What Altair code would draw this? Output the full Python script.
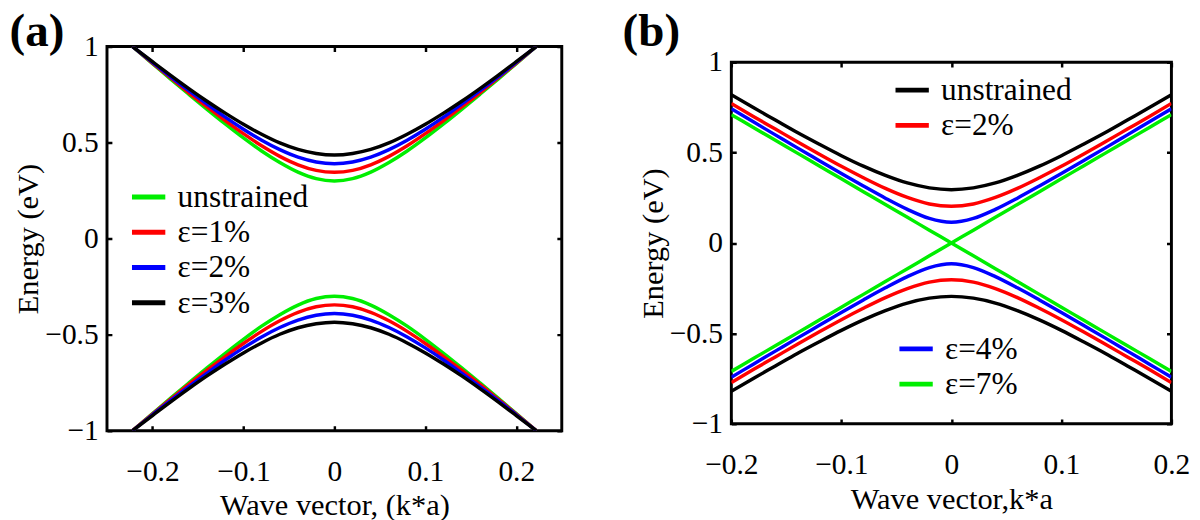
import altair as alt
import pandas as pd

FONT = "Liberation Serif"
LFONT = "serif"

# ---------------- panel (a): values read at k >= 0 (curves are symmetric in k, bands symmetric in E)
KA = [0.0, 0.02, 0.04, 0.06, 0.08, 0.10, 0.12, 0.14, 0.16, 0.18, 0.20, 0.222]
A_UNSTRAINED = [0.300, 0.312, 0.346, 0.396, 0.456, 0.524, 0.597, 0.673, 0.751, 0.830, 0.911, 1.000]
A_EPS1 = [0.345, 0.355, 0.384, 0.428, 0.483, 0.546, 0.614, 0.685, 0.759, 0.836, 0.913, 1.000]
A_EPS2 = [0.390, 0.399, 0.424, 0.463, 0.512, 0.569, 0.632, 0.700, 0.770, 0.842, 0.917, 1.000]
A_EPS3 = [0.435, 0.443, 0.464, 0.498, 0.543, 0.595, 0.653, 0.715, 0.781, 0.850, 0.921, 1.000]
A_LABELS = ["unstrained", "ε=1%", "ε=2%", "ε=3%"]
A_COLORS = ["#00ee00", "#ff0000", "#0000ff", "#000000"]

# ---------------- panel (b)
KB = [0.0, 0.02, 0.04, 0.06, 0.08, 0.10, 0.12, 0.14, 0.16, 0.18, 0.20]
B_UNSTRAINED = [0.295, 0.305, 0.332, 0.374, 0.425, 0.483, 0.546, 0.611, 0.680, 0.749, 0.820]
B_EPS2 = [0.203, 0.216, 0.252, 0.302, 0.361, 0.424, 0.491, 0.560, 0.630, 0.700, 0.772]
B_EPS4 = [0.115, 0.136, 0.186, 0.248, 0.315, 0.384, 0.455, 0.526, 0.598, 0.670, 0.742]
B_EPS7 = [0.000, 0.071, 0.142, 0.213, 0.284, 0.355, 0.426, 0.497, 0.568, 0.639, 0.710]
B_TOP_LABELS = ["unstrained", "ε=2%"]
B_TOP_COLORS = ["#000000", "#ff0000"]
B_BOT_LABELS = ["ε=4%", "ε=7%"]
B_BOT_COLORS = ["#0000ff", "#00ee00"]

A_TICKS = [-0.2, -0.1, 0, 0.1, 0.2]
B_TICKS = [-0.2, -0.1, 0, 0.1, 0.2]
Y_TICKS = [-1, -0.5, 0, 0.5, 1]


def bands(name, ks, vals, crossing=False):
    rows = []
    full = [(-k, v) for k, v in zip(ks[::-1], vals[::-1]) if k != 0] + list(zip(ks, vals))
    for b, sgn in (("upper", 1), ("lower", -1)):
        for k, v in full:
            s = sgn * (1 if k >= 0 else -1) if crossing else sgn
            rows.append({"series": name, "band": b, "k": k, "E": s * v})
    return rows


rows_a = []
for n, v in zip(A_LABELS, [A_UNSTRAINED, A_EPS1, A_EPS2, A_EPS3]):
    rows_a += bands(n, KA, v)
df_a = pd.DataFrame(rows_a)

rows_bt = []
for n, v in zip(B_TOP_LABELS, [B_UNSTRAINED, B_EPS2]):
    rows_bt += bands(n, KB, v)
df_bt = pd.DataFrame(rows_bt)

rows_bb = bands(B_BOT_LABELS[0], KB, B_EPS4) + bands(B_BOT_LABELS[1], KB, B_EPS7, crossing=True)
df_bb = pd.DataFrame(rows_bb)

WA, HA = 464, 392
WB, HB = 449, 369


def xaxis(title, ticks, h):
    return alt.Axis(values=ticks, format="~g", title=title, grid=True, gridColor="black",
                    gridOpacity=1, gridWidth=2.5, gridDash=[5, h - 10], ticks=False, domain=False,
                    labelFont=LFONT, titleFont=FONT,
                    labelFontSize=30, labelPadding=27, titleFontSize=31, titlePadding=5,
                    labelFlush=False)


def yaxis(ticks, w):
    return alt.Axis(values=ticks, format="~g", title="Energy (eV)", grid=True, gridColor="black",
                    gridOpacity=1, gridWidth=2.5, gridDash=[5, w - 10], ticks=False, domain=False,
                    labelFont=LFONT, titleFont=FONT,
                    labelFontSize=30, labelPadding=9, titleFontSize=31, titlePadding=0,
                    labelFlush=False)


def legend(x, y):
    return alt.Legend(orient="none", legendX=x, legendY=y, title=None, symbolType="stroke",
                      symbolStrokeWidth=5, symbolSize=1156, labelFontSize=32, labelFont=LFONT,
                      labelOffset=10, rowPadding=0, padding=0, labelColor="black")


xa = alt.X("k:Q", scale=alt.Scale(domain=[-0.25, 0.25], nice=False, zero=False),
           axis=xaxis("Wave vector, (k*a)", A_TICKS, HA))
ya = alt.Y("E:Q", scale=alt.Scale(domain=[-1, 1], nice=False), axis=yaxis(Y_TICKS, WA))

chart_a = alt.Chart(df_a).mark_line(strokeWidth=3.5, clip=True, interpolate="monotone").encode(
    x=xa, y=ya,
    color=alt.Color("series:N", scale=alt.Scale(domain=A_LABELS, range=A_COLORS),
                    legend=legend(23, 134)),
    detail="band:N",
).properties(width=WA, height=HA,
             title=alt.TitleParams("(a)", anchor="start", frame="bounds", fontSize=48, font=FONT,
                                   fontWeight="bold", offset=-25, dx=-4, color="black"))

xb = alt.X("k:Q", scale=alt.Scale(domain=[-0.2, 0.2], nice=False, zero=False),
           axis=xaxis("Wave vector,k*a", B_TICKS, HB))
yb = alt.Y("E:Q", scale=alt.Scale(domain=[-1, 1], nice=False), axis=yaxis(Y_TICKS, WB))

top_b = alt.Chart(df_bt).mark_line(strokeWidth=3.5, clip=True, interpolate="monotone").encode(
    x=xb, y=yb,
    color=alt.Color("series:N", scale=alt.Scale(domain=B_TOP_LABELS, range=B_TOP_COLORS),
                    legend=legend(165, 9)),
    detail="band:N",
)
bot_b = alt.Chart(df_bb).mark_line(strokeWidth=3.5, clip=True, interpolate="monotone").encode(
    x=xb, y=yb,
    color=alt.Color("series:N", scale=alt.Scale(domain=B_BOT_LABELS, range=B_BOT_COLORS),
                    legend=legend(169, 273)),
    detail="band:N",
)
chart_b = alt.layer(top_b, bot_b).resolve_scale(color="independent").properties(width=WB, height=HB)

spacer = alt.Chart(pd.DataFrame({"v": [0]})).mark_point(opacity=0, size=1).encode(
    x=alt.value(0), y=alt.value(0)
).properties(width=WB, height=1, view=alt.ViewBackground(strokeOpacity=0))

col_b = alt.vconcat(spacer, chart_b, spacing=-2).properties(
    title=alt.TitleParams("(b)", anchor="start", frame="bounds", fontSize=48, font=FONT,
                          fontWeight="bold", offset=-10, dx=-14, color="black"))

chart = alt.hconcat(chart_a, col_b, spacing=60).resolve_scale(color="independent").properties(
    padding={"top": -6, "left": 0, "right": 0, "bottom": 0}
).configure(font=FONT).configure_view(stroke="black", strokeWidth=3).configure_axis(
    labelColor="black", titleColor="black", titleFontWeight="normal"
)

chart.save("out.html", embed_options={"renderer": "svg", "actions": False})
